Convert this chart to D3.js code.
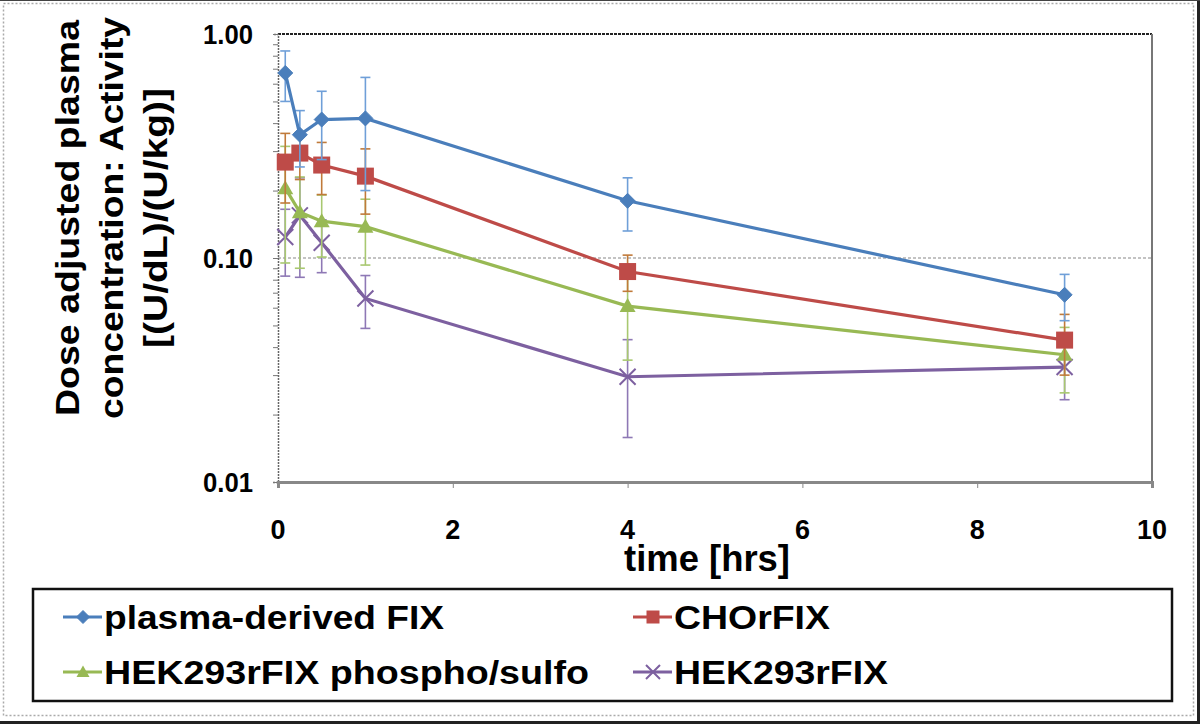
<!DOCTYPE html>
<html><head><meta charset="utf-8">
<script src="https://cdn.jsdelivr.net/npm/d3@7"></script>
<style>body{margin:0;background:#fff}svg{display:block;font-family:"Liberation Sans",Arial,sans-serif;font-weight:bold}</style>
</head><body><svg id="c" width="1200" height="724"></svg>
<script>
const times = [0.083, 0.25, 0.5, 1, 4, 9];
const seriesNames = ["plasma-derived FIX", "CHOrFIX", "HEK293rFIX phospho/sulfo", "HEK293rFIX"];
const pdFIX = [0.67, 0.355, 0.415, 0.42, 0.18, 0.0685];
const pdFIXErr = [0.17, 0.10, 0.14, 0.22, 0.048, 0.016];
const choFIX = [0.268, 0.294, 0.26, 0.232, 0.087, 0.043];
const choFIXErr = [0.092, 0.07, 0.068, 0.075, 0.016, 0.013];
const hekPS = [0.205, 0.16, 0.146, 0.138, 0.061, 0.037];
const hekPSErr = [0.11, 0.07, 0.045, 0.045, 0.026, 0.012];
const hek = [0.124, 0.155, 0.117, 0.066, 0.0295, 0.0326];
const hekErr = [0.041, 0.073, 0.031, 0.0175, 0.0137, 0.0093];
const xTicks = [0, 2, 4, 6, 8, 10];
const yTicks = [0.01, 0.1, 1];
const colors = ["#4A7EBB", "#BE4B48", "#98B954", "#7D60A0"];
const errColors = ["#6F9FD8", "#C07A3A", "#A8C870", "#8E78B5"];
const markers = ["diamond", "square", "triangle", "x"];

const svg = d3.select("#c");
const x = d3.scaleLinear().domain([0, 10]).range([278, 1152]);
const y = d3.scaleLog().domain([0.01, 1]).range([482, 34]);

// outer frame
svg.append("rect").attr("x",3.5).attr("y",3.5).attr("width",1190).attr("height",712)
  .attr("fill","none").attr("stroke","#aaa").attr("stroke-width",1.5).attr("stroke-dasharray","2,2");
svg.append("line").attr("x1",0).attr("x2",1200).attr("y1",722.5).attr("y2",722.5).attr("stroke","#222").attr("stroke-width",3);
svg.append("line").attr("x1",1198.5).attr("x2",1198.5).attr("y1",0).attr("y2",724).attr("stroke","#222").attr("stroke-width",3);
svg.append("line").attr("x1",0).attr("x2",1200).attr("y1",0.5).attr("y2",0.5).attr("stroke","#444").attr("stroke-width",1);

// gridlines
svg.append("g").selectAll("line").data([0.1]).join("line")
  .attr("x1",x(0)).attr("x2",x(10)).attr("y1",d=>y(d)).attr("y2",d=>y(d))
  .attr("stroke","#888").attr("stroke-width",1.2).attr("stroke-dasharray","3,2");
// top border
svg.append("line").attr("x1",x(0)).attr("x2",x(10)).attr("y1",y(1)).attr("y2",y(1))
  .attr("stroke","#222").attr("stroke-width",2).attr("stroke-dasharray","3,1");
// right border
svg.append("line").attr("x1",x(10)).attr("x2",x(10)).attr("y1",y(1)).attr("y2",y(0.01))
  .attr("stroke","#777").attr("stroke-width",2);

// y axis
const yMinor = [];
[0.01,0.1].forEach(b=>{for(let k=1;k<=10;k++) yMinor.push(b*k);});
const yAxis = d3.axisLeft(y).tickValues(yMinor).tickSize(5).tickFormat("");
const gy = svg.append("g").attr("transform",`translate(${x(0)},0)`).call(yAxis);
gy.select(".domain").attr("stroke","#666").attr("stroke-width",1.5).attr("stroke-dasharray","2,1");
gy.selectAll(".tick line").attr("stroke","#777").attr("stroke-width",1);
svg.append("g").selectAll("text").data(yTicks).join("text")
  .attr("x",253).attr("y",d=>y(d)+10).attr("text-anchor","end")
  .attr("font-size",28).attr("textLength",50).attr("lengthAdjust","spacingAndGlyphs")
  .attr("fill","#000").text(d=>d3.format(".2f")(d));

// x axis
const xAxis = d3.axisBottom(x).tickValues(xTicks).tickSize(6).tickFormat("");
const gx = svg.append("g").attr("transform",`translate(0,${y(0.01)})`).call(xAxis);
gx.select(".domain").attr("stroke","#888").attr("stroke-width",3);
gx.selectAll(".tick line").attr("stroke","#888").attr("stroke-width",1);
svg.append("g").selectAll("text").data(xTicks).join("text")
  .attr("x",d=>x(d)).attr("y",539).attr("text-anchor","middle")
  .attr("font-size",27).attr("fill","#000").text(d=>d);

// axis titles
svg.append("text").attr("x",707).attr("y",571).attr("text-anchor","middle")
  .attr("font-size",36).attr("textLength",166).attr("lengthAdjust","spacingAndGlyphs").text("time [hrs]");
const yTitle = ["Dose adjusted plasma","concentration: Activity","[(U/dL)/(U/kg)]"];
const yTitleLen = [396, 402, 260];
const yTitleX = [79, 123, 167];
yTitle.forEach((t,i)=>{
  svg.append("text").attr("transform",`translate(${yTitleX[i]},218) rotate(-90)`)
    .attr("text-anchor","middle").attr("font-size",33)
    .attr("textLength",yTitleLen[i]).attr("lengthAdjust","spacingAndGlyphs").text(t);
});

function drawMarker(g, type, cx, cy, color, s){
  if(type==="diamond"){
    g.append("path").attr("d",`M${cx},${cy-s}L${cx+s},${cy}L${cx},${cy+s}L${cx-s},${cy}Z`).attr("fill",color).attr("stroke",color);
  } else if(type==="square"){
    g.append("rect").attr("x",cx-s).attr("y",cy-s).attr("width",2*s).attr("height",2*s).attr("fill",color);
  } else if(type==="triangle"){
    g.append("path").attr("d",`M${cx},${cy-s}L${cx+s},${cy+s*0.75}L${cx-s},${cy+s*0.75}Z`).attr("fill",color);
  } else {
    g.append("path").attr("d",`M${cx-s},${cy-s}L${cx+s},${cy+s}M${cx-s},${cy+s}L${cx+s},${cy-s}`)
      .attr("stroke",color).attr("stroke-width",2).attr("fill","none");
  }
}
const sizes = [7.5, 8.5, 8, 8];

const allSeries = [[pdFIX,pdFIXErr],[choFIX,choFIXErr],[hekPS,hekPSErr],[hek,hekErr]];
const plot = svg.append("g");
[3,2,1,0].forEach(i=>{
  const [vals, errs] = allSeries[i];
  const data = times.map((t,j)=>({t, v:vals[j], e:errs[j]}));
  const g = plot.append("g");
  data.forEach(d=>{
    const lo = Math.max(d.v-d.e, 0.0101), hi = d.v+d.e;
    g.append("line").attr("x1",x(d.t)).attr("x2",x(d.t)).attr("y1",y(lo)).attr("y2",y(hi))
      .attr("stroke",errColors[i]).attr("stroke-width",1.6);
    [lo,hi].forEach(vv=>{
      g.append("line").attr("x1",x(d.t)-5).attr("x2",x(d.t)+5).attr("y1",y(vv)).attr("y2",y(vv))
        .attr("stroke",errColors[i]).attr("stroke-width",1.6);
    });
  });
  g.append("path").datum(data)
    .attr("d",d3.line().x(d=>x(d.t)).y(d=>y(d.v)))
    .attr("fill","none").attr("stroke",colors[i]).attr("stroke-width",3.2);
  data.forEach(d=>drawMarker(g, markers[i], x(d.t), y(d.v), colors[i], sizes[i]));
});

// legend
svg.append("rect").attr("x",33).attr("y",589).attr("width",1139).attr("height",112)
  .attr("fill","#fff").attr("stroke","#111").attr("stroke-width",2.5);
const legPos = [[63,617,340],[633,617,156],[63,672,485],[633,672,214]];
seriesNames.forEach((n,i)=>{
  const [lx,ly,tl] = legPos[i];
  const lg = svg.append("g");
  lg.append("line").attr("x1",lx).attr("x2",lx+39).attr("y1",ly).attr("y2",ly)
    .attr("stroke",colors[i]).attr("stroke-width",3);
  drawMarker(lg, markers[i], lx+20, ly, colors[i], i===3?7:6.5);
  lg.append("text").attr("x",lx+41).attr("y",ly+12).attr("font-size",34)
    .attr("textLength",tl).attr("lengthAdjust","spacingAndGlyphs").text(n);
});
</script></body></html>
